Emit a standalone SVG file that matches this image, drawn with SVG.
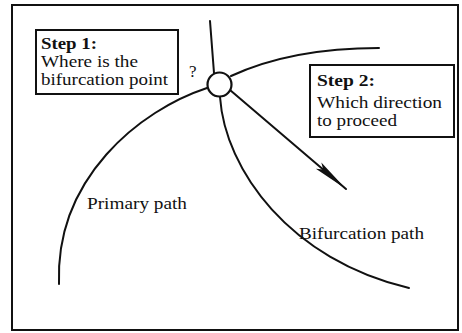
<svg xmlns="http://www.w3.org/2000/svg" width="462" height="333" viewBox="0 0 462 333">
<style>
.ln{fill:none;stroke:#111;stroke-width:2;stroke-linecap:round}
.box{fill:#fff;stroke:#111;stroke-width:2}
text{font-family:"Liberation Serif","Times New Roman",serif;font-size:16px;fill:#111}
.lbl{font-size:17px}
.b{font-weight:bold}
</style>
<defs>
<marker id="ah" markerUnits="userSpaceOnUse" markerWidth="38" markerHeight="10" refX="36" refY="5" orient="auto">
<path d="M0,0.8 L36,5 L0,9.2 L6,5 z" fill="#111"/>
</marker>
</defs>
<rect x="0" y="0" width="462" height="333" fill="#fff"/>
<rect id="frame" x="12" y="5" width="446" height="325" fill="none" stroke="#111" stroke-width="2"/>
<g id="connectors">
<path class="ln" d="M210,21 L214,73"/>
<path class="ln" d="M207,88 C140,110 55,178 59,284"/>
<path class="ln" d="M231,76 C270,58 320,48 379,48"/>
<path class="ln" d="M220,97 C225,170 290,260 409,288"/>
<path class="ln" d="M230,90 L346,189" marker-end="url(#ah)"/>
</g>
<g id="bifurcation-point">
<circle cx="219.5" cy="84.5" r="12" fill="#fff" stroke="#111" stroke-width="2.2"/>
<text class="lbl" x="189" y="77">?</text>
</g>
<g id="step1">
<rect class="box" x="36" y="30" width="142" height="64"/>
<text class="b" x="41" y="49" textLength="56" lengthAdjust="spacingAndGlyphs">Step 1:</text>
<text x="41" y="67" textLength="97" lengthAdjust="spacingAndGlyphs">Where is the</text>
<text x="41" y="85" textLength="127" lengthAdjust="spacingAndGlyphs">bifurcation point</text>
</g>
<g id="step2">
<rect class="box" x="310" y="65" width="144" height="72"/>
<text class="b" x="317" y="86" textLength="58" lengthAdjust="spacingAndGlyphs">Step 2:</text>
<text x="317" y="108" textLength="125" lengthAdjust="spacingAndGlyphs">Which direction</text>
<text x="317" y="126" textLength="80" lengthAdjust="spacingAndGlyphs">to proceed</text>
</g>
<g id="primary-path-label">
<text class="lbl" x="87" y="209" textLength="100" lengthAdjust="spacingAndGlyphs">Primary path</text>
</g>
<g id="bifurcation-path-label">
<text class="lbl" x="299" y="239" textLength="125" lengthAdjust="spacingAndGlyphs">Bifurcation path</text>
</g>
</svg>
